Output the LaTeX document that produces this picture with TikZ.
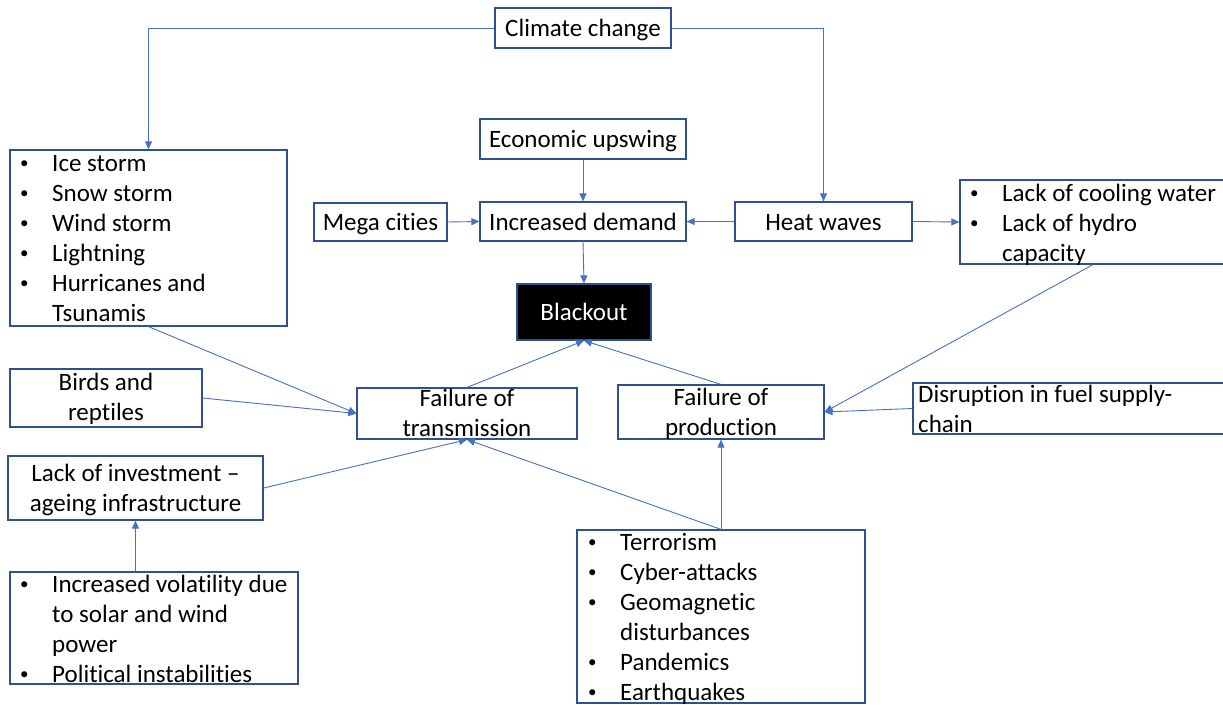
\documentclass[tikz,border=0pt]{standalone}
\usepackage{fontspec}
\setmainfont{Carlito}[Ligatures={NoCommon}]
\usetikzlibrary{arrows.meta}
\definecolor{boxc}{HTML}{2F528F}
\definecolor{linec}{HTML}{4472C4}
% small list bullet, bullet line and continuation line of a list
\newcommand\smallbul{\raisebox{2.6pt}{\fontsize{17}{17}\selectfont\textbullet}}
\newcommand\bl[1]{\makebox[33pt][l]{\hspace*{1pt}\smallbul}#1}
\newcommand\cl[1]{\hspace*{33pt}#1}
\begin{document}
\begin{tikzpicture}[x=1pt,y=-1pt,
  every node/.style={font=\fontsize{25}{30}\selectfont},
  box/.style={draw=boxc, line width=1.2pt, fill=white, inner sep=0pt,
    text height=21pt, text depth=4pt},
  list/.style={anchor=north west, inner sep=0pt, align=left},
  pair/.style={anchor=north, inner sep=0pt, align=center},
  conn/.style={draw=linec, line width=0.9pt, -{Triangle[length=8pt,width=7pt]}}]
\useasboundingbox (0,0) rectangle (1223,704);

% boxes
\node[box, minimum width=176, minimum height=40] (climate) at (583,28) {Climate change};
\node[box, minimum width=206, minimum height=40] (econ) at (583,139) {Economic upswing};
\node[box, minimum width=133, minimum height=38] (mega) at (380.5,222) {Mega cities};
\node[box, minimum width=206, minimum height=39] (demand) at (583,221.5) {Increased demand};
\node[box, minimum width=177, minimum height=39] (heat) at (823.5,221.5) {Heat waves};
\node[box, minimum width=266, minimum height=84] (cool) at (1093,222) {};
\node[box, fill=black, text=white, minimum width=134, minimum height=56] (blackout) at (584,312) {Blackout};
\node[box, minimum width=277, minimum height=176] (ice) at (148.5,238) {};
\node[box, minimum width=192, minimum height=58] (birds) at (106,398) {};
\node[box, minimum width=220, minimum height=51] (trans) at (467,413.5) {};
\node[box, minimum width=206, minimum height=54] (prod) at (721,412) {};
\node[box, minimum width=313, minimum height=51] (disrupt) at (1069.5,408.5) {};
\node[box, minimum width=255, minimum height=64] (inv) at (135.5,488) {};
\node[box, minimum width=288, minimum height=112] (vol) at (154,628) {};
\node[box, minimum width=288, minimum height=173] (terror) at (721,616.5) {};

% two-line centred texts (first baseline 20pt below the anchor)
\node[pair] (birdstxt) at (106,370) {\rule{0pt}{20pt}Birds and\\reptiles};
\node[pair] (transtxt) at (467,386.5) {\rule{0pt}{20pt}Failure of\\transmission};
\node[pair] (prodtxt) at (721,385) {\rule{0pt}{20pt}Failure of\\production};
\node[pair] (invtxt) at (135.5,461) {\rule{0pt}{20pt}Lack of investment --\\ageing infrastructure};

% list texts
\node[list] (icetxt) at (19,151) {\rule{0pt}{20pt}\bl{Ice storm}\\ \bl{Snow storm}\\ \bl{Wind storm}\\ \bl{Lightning}\\ \bl{Hurricanes and}\\ \cl{Tsunamis}};
\node[list] (cooltxt) at (969,181) {\rule{0pt}{20pt}\bl{Lack of cooling water}\\ \bl{Lack of hydro}\\ \cl{capacity}};
\node[list] (disrupttxt) at (918,382) {\rule{0pt}{20pt}Disruption in fuel supply-\\chain};
\node[list] (voltxt) at (19,572) {\rule{0pt}{20pt}\bl{Increased volatility due}\\ \cl{to solar and wind}\\ \cl{power}\\ \bl{Political instabilities}};
\node[list] (terrortxt) at (587,530) {\rule{0pt}{20pt}\bl{Terrorism}\\ \bl{Cyber-attacks}\\ \bl{Geomagnetic}\\ \cl{disturbances}\\ \bl{Pandemics}\\ \bl{Earthquakes}};

% connectors
\draw[conn] (climate.west) -| (ice.north);
\draw[conn] (climate.east) -| (heat.north);
\draw[conn] (econ.south) -- (demand.north);
\draw[conn] (mega.east) -- (demand.west);
\draw[conn] (heat.west) -- (demand.east);
\draw[conn] (heat.east) -- (cool.west);
\draw[conn] (demand.south) -- (blackout.north);
\draw[conn] (ice.south) -- (trans.west);
\draw[conn] (birds.east) -- (trans.west);
\draw[conn] (inv.east) -- (trans.south);
\draw[conn] (terror.north) -- (trans.south);
\draw[conn] (terror.north) -- (prod.south);
\draw[conn] (vol.north -| inv.south) -- (inv.south);
\draw[conn] (trans.north) -- (blackout.south);
\draw[conn] (prod.north) -- (blackout.south);
\draw[conn] (cool.south) -- (prod.east);
\draw[conn] (disrupt.west) -- (prod.east);
\end{tikzpicture}
\end{document}
